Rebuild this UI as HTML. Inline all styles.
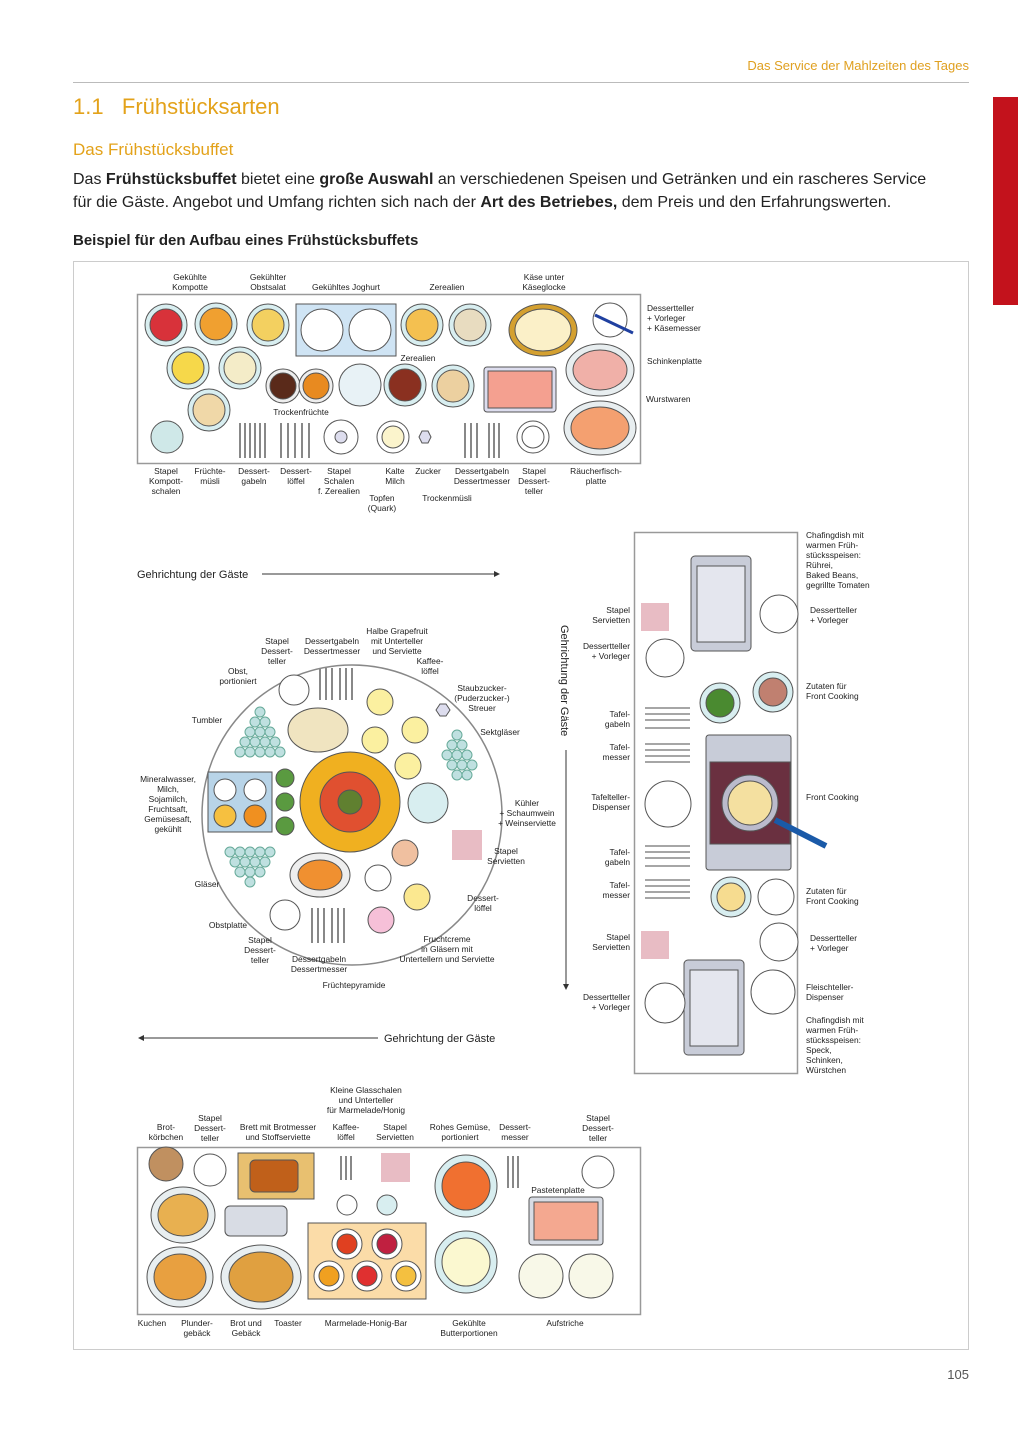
<!DOCTYPE html>
<html><head><meta charset="utf-8"><style>
body{margin:0;background:#fff}
#p{position:relative;width:1018px;height:1440px;overflow:hidden;font-family:"Liberation Sans",sans-serif}
.t{position:absolute;white-space:nowrap}
svg text{font-family:"Liberation Sans",sans-serif;font-size:8.4px;fill:#222}
</style></head><body><div id="p">
<div class="t" style="right:49px;top:58px;font-size:13px;color:#e0a020">Das Service der Mahlzeiten des Tages</div>
<div style="position:absolute;left:73px;top:82px;width:896px;height:1px;background:#bbb"></div>
<div style="position:absolute;left:993px;top:97px;width:25px;height:208px;background:#c3121c"></div>
<div class="t" style="left:73px;top:94px;font-size:22px;color:#e3a21a">1.1&nbsp;&nbsp;&nbsp;Frühstücksarten</div>
<div class="t" style="left:73px;top:140px;font-size:17px;color:#e3a21a">Das Frühstücksbuffet</div>
<div class="t" style="left:73px;top:168px;font-size:16px;color:#222;line-height:23px">Das <b>Frühstücksbuffet</b> bietet eine <b>große Auswahl</b> an verschiedenen Speisen und Getränken und ein rascheres Service<br>für die Gäste. Angebot und Umfang richten sich nach der <b>Art des Betriebes,</b> dem Preis und den Erfahrungswerten.</div>
<div class="t" style="left:73px;top:232px;font-size:15px;color:#222;font-weight:bold">Beispiel für den Aufbau eines Frühstücksbuffets</div>
<div class="t" style="right:49px;top:1367px;font-size:13px;color:#555">105</div>
<svg width="1018" height="1440" style="position:absolute;left:0;top:0">
<rect x="73.5" y="261.5" width="895" height="1088" fill="none" stroke="#ccc"/>
<!-- top table -->
<rect x="137.5" y="294.5" width="503" height="169" fill="#fff" stroke="#999" stroke-width="1.5"/>
<g stroke="#555" stroke-width="1">
<circle cx="166" cy="325" r="21" fill="#d8eef0"/><circle cx="166" cy="325" r="16" fill="#d8323a"/>
<circle cx="216" cy="324" r="21" fill="#d8eef0"/><circle cx="216" cy="324" r="16" fill="#f0a030"/>
<circle cx="268" cy="325" r="21" fill="#d8eef0"/><circle cx="268" cy="325" r="16" fill="#f3d060"/>
<circle cx="188" cy="368" r="21" fill="#d8eef0"/><circle cx="188" cy="368" r="16" fill="#f6d84a"/>
<circle cx="240" cy="368" r="21" fill="#d8eef0"/><circle cx="240" cy="368" r="16" fill="#f4ecc8"/>
<circle cx="209" cy="410" r="21" fill="#d8eef0"/><circle cx="209" cy="410" r="16" fill="#f0d8a8"/>
<circle cx="167" cy="437" r="16" fill="#cfe8e8"/>
<circle cx="283" cy="386" r="17" fill="#eee"/><circle cx="283" cy="386" r="13" fill="#5a2a1a"/>
<circle cx="316" cy="386" r="17" fill="#eee"/><circle cx="316" cy="386" r="13" fill="#e88a20"/>
<circle cx="360" cy="385" r="21" fill="#e8f2f6"/>
<circle cx="405" cy="385" r="21" fill="#d8eef0"/><circle cx="405" cy="385" r="16" fill="#8a3020"/>
<circle cx="453" cy="386" r="21" fill="#d8eef0"/><circle cx="453" cy="386" r="16" fill="#ecd0a0"/>
<circle cx="422" cy="325" r="21" fill="#d8eef0"/><circle cx="422" cy="325" r="16" fill="#f4c050"/>
<circle cx="470" cy="325" r="21" fill="#d8eef0"/><circle cx="470" cy="325" r="16" fill="#e8dcc0"/>
<rect x="296" y="304" width="100" height="52" fill="#cfe4f4"/>
<circle cx="322" cy="330" r="21" fill="#fff"/><circle cx="370" cy="330" r="21" fill="#fff"/>
<ellipse cx="543" cy="330" rx="34" ry="26" fill="#d4a030"/><ellipse cx="543" cy="330" rx="28" ry="21" fill="#fbf0c8"/>
<circle cx="610" cy="320" r="17" fill="#fff"/><line x1="595" y1="315" x2="633" y2="333" stroke="#2040a0" stroke-width="3"/>
<ellipse cx="600" cy="370" rx="34" ry="26" fill="#e8eef0"/><ellipse cx="600" cy="370" rx="27" ry="20" fill="#f0b0a8"/>
<rect x="484" y="367" width="72" height="45" rx="3" fill="#dde"/><rect x="488" y="371" width="64" height="37" fill="#f4a090"/>
<ellipse cx="600" cy="428" rx="36" ry="27" fill="#e8eef0"/><ellipse cx="600" cy="428" rx="29" ry="21" fill="#f4a070"/>
<circle cx="341" cy="437" r="17" fill="#fff"/><circle cx="341" cy="437" r="6" fill="#dde"/>
<circle cx="393" cy="437" r="16" fill="#fff"/><circle cx="393" cy="437" r="11" fill="#fbf4cc"/>
<polygon points="419,437 422,431 428,431 431,437 428,443 422,443" fill="#dde"/>
<circle cx="533" cy="437" r="16" fill="#fff"/><circle cx="533" cy="437" r="11" fill="#fff"/>
</g>
<g stroke="#888" stroke-width="2">
<path d="M240 423v35M245 423v35M250 423v35M255 423v35M260 423v35M265 423v35M281 423v35M288 423v35M295 423v35M302 423v35M309 423v35M465 423v35M471 423v35M477 423v35M489 423v35M494 423v35M499 423v35"/>
</g>
<g text-anchor="middle">
<text x="190" y="280">Gekühlte</text><text x="190" y="290">Kompotte</text>
<text x="268" y="280">Gekühlter</text><text x="268" y="290">Obstsalat</text>
<text x="346" y="290">Gekühltes Joghurt</text><text x="447" y="290">Zerealien</text>
<text x="544" y="280">Käse unter</text><text x="544" y="290">Käseglocke</text>
<text x="418" y="361">Zerealien</text><text x="301" y="415">Trockenfrüchte</text>
<text x="166" y="474">Stapel</text><text x="166" y="484">Kompott-</text><text x="166" y="494">schalen</text>
<text x="210" y="474">Früchte-</text><text x="210" y="484">müsli</text>
<text x="254" y="474">Dessert-</text><text x="254" y="484">gabeln</text>
<text x="296" y="474">Dessert-</text><text x="296" y="484">löffel</text>
<text x="339" y="474">Stapel</text><text x="339" y="484">Schalen</text><text x="339" y="494">f. Zerealien</text>
<text x="395" y="474">Kalte</text><text x="395" y="484">Milch</text>
<text x="428" y="474">Zucker</text>
<text x="482" y="474">Dessertgabeln</text><text x="482" y="484">Dessertmesser</text>
<text x="534" y="474">Stapel</text><text x="534" y="484">Dessert-</text><text x="534" y="494">teller</text>
<text x="596" y="474">Räucherfisch-</text><text x="596" y="484">platte</text>
<text x="382" y="501">Topfen</text><text x="382" y="511">(Quark)</text>
<text x="447" y="501">Trockenmüsli</text>
</g>
<text x="647" y="311">Dessertteller</text><text x="647" y="321">+ Vorleger</text><text x="647" y="331">+ Käsemesser</text>
<text x="647" y="364">Schinkenplatte</text><text x="646" y="402">Wurstwaren</text>
<!-- direction arrows -->
<text x="137" y="578" style="font-size:11px">Gehrichtung der Gäste</text>
<line x1="262" y1="574" x2="498" y2="574" stroke="#333"/><polygon points="500,574 494,571 494,577" fill="#333"/>
<line x1="142" y1="1038" x2="378" y2="1038" stroke="#333"/><polygon points="138,1038 144,1035 144,1041" fill="#333"/>
<text x="384" y="1042" style="font-size:11px">Gehrichtung der Gäste</text>
<text transform="translate(561,625) rotate(90)" style="font-size:11px">Gehrichtung der Gäste</text>
<line x1="566" y1="750" x2="566" y2="986" stroke="#333"/><polygon points="566,990 563,984 569,984" fill="#333"/>
<!-- round table -->
<circle cx="352" cy="815" r="150" fill="#fff" stroke="#888" stroke-width="1.5"/>
<g stroke="#555">
<circle cx="350" cy="802" r="50" fill="#f0b020"/><circle cx="350" cy="802" r="30" fill="#e05030"/><circle cx="350" cy="802" r="12" fill="#608030"/>
<ellipse cx="318" cy="730" rx="30" ry="22" fill="#f0e4c0"/>
<ellipse cx="320" cy="875" rx="30" ry="22" fill="#eee"/><ellipse cx="320" cy="875" rx="22" ry="15" fill="#f09030"/>
<rect x="208" y="772" width="64" height="60" fill="#b8d4e8"/>
<circle cx="225" cy="790" r="11" fill="#fff"/><circle cx="255" cy="790" r="11" fill="#fff"/><circle cx="225" cy="816" r="11" fill="#f6c040"/><circle cx="255" cy="816" r="11" fill="#f09020"/>
<circle cx="285" cy="778" r="9" fill="#5a9a40"/><circle cx="285" cy="802" r="9" fill="#5a9a40"/><circle cx="285" cy="826" r="9" fill="#5a9a40"/>
<circle cx="294" cy="690" r="15" fill="#fff"/><circle cx="285" cy="915" r="15" fill="#fff"/>
<circle cx="380" cy="702" r="13" fill="#fbf0a0"/><circle cx="415" cy="730" r="13" fill="#fbf0a0"/><circle cx="375" cy="740" r="13" fill="#fbf0a0"/><circle cx="408" cy="766" r="13" fill="#fbf0a0"/>
<circle cx="428" cy="803" r="20" fill="#d8eef0"/>
<rect x="452" y="830" width="30" height="30" fill="#e8bcc4" stroke="none"/>
<circle cx="405" cy="853" r="13" fill="#f0c0a0"/><circle cx="378" cy="878" r="13" fill="#fff"/><circle cx="417" cy="897" r="13" fill="#fbe890"/><circle cx="381" cy="920" r="13" fill="#f6c0d8"/>
<polygon points="436,710 440,704 446,704 450,710 446,716 440,716" fill="#dde"/>
</g>
<g fill="#bfe0e0" stroke="#6a9">
<circle cx="260" cy="712" r="5"/><circle cx="255" cy="722" r="5"/><circle cx="265" cy="722" r="5"/><circle cx="250" cy="732" r="5"/><circle cx="260" cy="732" r="5"/><circle cx="270" cy="732" r="5"/><circle cx="245" cy="742" r="5"/><circle cx="255" cy="742" r="5"/><circle cx="265" cy="742" r="5"/><circle cx="275" cy="742" r="5"/><circle cx="240" cy="752" r="5"/><circle cx="250" cy="752" r="5"/><circle cx="260" cy="752" r="5"/><circle cx="270" cy="752" r="5"/><circle cx="280" cy="752" r="5"/>
<circle cx="230" cy="852" r="5"/><circle cx="240" cy="852" r="5"/><circle cx="250" cy="852" r="5"/><circle cx="260" cy="852" r="5"/><circle cx="270" cy="852" r="5"/><circle cx="235" cy="862" r="5"/><circle cx="245" cy="862" r="5"/><circle cx="255" cy="862" r="5"/><circle cx="265" cy="862" r="5"/><circle cx="240" cy="872" r="5"/><circle cx="250" cy="872" r="5"/><circle cx="260" cy="872" r="5"/><circle cx="250" cy="882" r="5"/>
<circle cx="457" cy="735" r="5"/><circle cx="452" cy="745" r="5"/><circle cx="462" cy="745" r="5"/><circle cx="447" cy="755" r="5"/><circle cx="457" cy="755" r="5"/><circle cx="467" cy="755" r="5"/><circle cx="452" cy="765" r="5"/><circle cx="462" cy="765" r="5"/><circle cx="472" cy="765" r="5"/><circle cx="457" cy="775" r="5"/><circle cx="467" cy="775" r="5"/>
</g>
<g stroke="#888" stroke-width="2"><path d="M320 668v32M326 668v32M332 668v32M340 668v32M346 668v32M352 668v32M312 908v35M318 908v35M324 908v35M332 908v35M338 908v35M344 908v35"/></g>
<g text-anchor="middle">
<text x="277" y="644">Stapel</text><text x="277" y="654">Dessert-</text><text x="277" y="664">teller</text>
<text x="332" y="644">Dessertgabeln</text><text x="332" y="654">Dessertmesser</text>
<text x="397" y="634">Halbe Grapefruit</text><text x="397" y="644">mit Unterteller</text><text x="397" y="654">und Serviette</text>
<text x="430" y="664">Kaffee-</text><text x="430" y="674">löffel</text>
<text x="238" y="674">Obst,</text><text x="238" y="684">portioniert</text>
<text x="482" y="691">Staubzucker-</text><text x="482" y="701">(Puderzucker-)</text><text x="482" y="711">Streuer</text>
<text x="207" y="723">Tumbler</text><text x="500" y="735">Sektgläser</text>
<text x="168" y="782">Mineralwasser,</text><text x="168" y="792">Milch,</text><text x="168" y="802">Sojamilch,</text><text x="168" y="812">Fruchtsaft,</text><text x="168" y="822">Gemüsesaft,</text><text x="168" y="832">gekühlt</text>
<text x="527" y="806">Kühler</text><text x="527" y="816">+ Schaumwein</text><text x="527" y="826">+ Weinserviette</text>
<text x="506" y="854">Stapel</text><text x="506" y="864">Servietten</text>
<text x="207" y="887">Gläser</text>
<text x="483" y="901">Dessert-</text><text x="483" y="911">löffel</text>
<text x="228" y="928">Obstplatte</text>
<text x="260" y="943">Stapel</text><text x="260" y="953">Dessert-</text><text x="260" y="963">teller</text>
<text x="447" y="942">Fruchtcreme</text><text x="447" y="952">in Gläsern mit</text><text x="447" y="962">Untertellern und Serviette</text>
<text x="319" y="962">Dessertgabeln</text><text x="319" y="972">Dessertmesser</text>
<text x="354" y="988">Früchtepyramide</text>
</g>
<!-- right table -->
<rect x="634.5" y="532.5" width="163" height="541" fill="#fff" stroke="#999" stroke-width="1.5"/>
<g stroke="#555">
<rect x="691" y="556" width="60" height="95" rx="4" fill="#c8ccd8"/><rect x="697" y="566" width="48" height="76" fill="#e4e6ee"/>
<rect x="684" y="960" width="60" height="95" rx="4" fill="#c8ccd8"/><rect x="690" y="970" width="48" height="76" fill="#e4e6ee"/>
<rect x="706" y="735" width="85" height="135" rx="3" fill="#c8ccd8"/><rect x="710" y="762" width="80" height="82" fill="#6a3040"/>
<circle cx="750" cy="803" r="28" fill="#bbc"/><circle cx="750" cy="803" r="22" fill="#f4e0a0"/>
<line x1="775" y1="820" x2="826" y2="846" stroke="#1a5aa8" stroke-width="6"/>
<circle cx="779" cy="614" r="19" fill="#fff"/><circle cx="665" cy="658" r="19" fill="#fff"/>
<circle cx="720" cy="703" r="20" fill="#d8eef0"/><circle cx="720" cy="703" r="14" fill="#4a8a30"/>
<circle cx="773" cy="692" r="20" fill="#d8eef0"/><circle cx="773" cy="692" r="14" fill="#c08070"/>
<circle cx="668" cy="804" r="23" fill="#fff"/>
<circle cx="731" cy="897" r="20" fill="#d8eef0"/><circle cx="731" cy="897" r="14" fill="#f6dc90"/>
<circle cx="776" cy="897" r="18" fill="#fff"/>
<circle cx="779" cy="942" r="19" fill="#fff"/>
<circle cx="665" cy="1003" r="20" fill="#fff"/><circle cx="773" cy="992" r="22" fill="#fff"/>
</g>
<rect x="641" y="603" width="28" height="28" fill="#e8bcc4"/><rect x="641" y="931" width="28" height="28" fill="#e8bcc4"/>
<g stroke="#888" stroke-width="1.5"><path d="M645 708h45M645 714h45M645 720h45M645 728h45M645 744h45M645 750h45M645 756h45M645 762h45M645 846h45M645 852h45M645 858h45M645 866h45M645 880h45M645 886h45M645 892h45M645 898h45"/></g>
<g text-anchor="end">
<text x="630" y="613">Stapel</text><text x="630" y="623">Servietten</text>
<text x="630" y="649">Dessertteller</text><text x="630" y="659">+ Vorleger</text>
<text x="630" y="717">Tafel-</text><text x="630" y="727">gabeln</text>
<text x="630" y="750">Tafel-</text><text x="630" y="760">messer</text>
<text x="630" y="800">Tafelteller-</text><text x="630" y="810">Dispenser</text>
<text x="630" y="855">Tafel-</text><text x="630" y="865">gabeln</text>
<text x="630" y="888">Tafel-</text><text x="630" y="898">messer</text>
<text x="630" y="940">Stapel</text><text x="630" y="950">Servietten</text>
<text x="630" y="1000">Dessertteller</text><text x="630" y="1010">+ Vorleger</text>
</g>
<text x="806" y="538">Chafingdish mit</text><text x="806" y="548">warmen Früh-</text><text x="806" y="558">stücksspeisen:</text><text x="806" y="568">Rührei,</text><text x="806" y="578">Baked Beans,</text><text x="806" y="588">gegrillte Tomaten</text>
<text x="810" y="613">Dessertteller</text><text x="810" y="623">+ Vorleger</text>
<text x="806" y="689">Zutaten für</text><text x="806" y="699">Front Cooking</text>
<text x="806" y="800">Front Cooking</text>
<text x="806" y="894">Zutaten für</text><text x="806" y="904">Front Cooking</text>
<text x="810" y="941">Dessertteller</text><text x="810" y="951">+ Vorleger</text>
<text x="806" y="990">Fleischteller-</text><text x="806" y="1000">Dispenser</text>
<text x="806" y="1023">Chafingdish mit</text><text x="806" y="1033">warmen Früh-</text><text x="806" y="1043">stücksspeisen:</text><text x="806" y="1053">Speck,</text><text x="806" y="1063">Schinken,</text><text x="806" y="1073">Würstchen</text>
<!-- bottom table -->
<rect x="137.5" y="1147.5" width="503" height="167" fill="#fff" stroke="#999" stroke-width="1.5"/>
<g stroke="#555">
<circle cx="166" cy="1164" r="17" fill="#c09060"/>
<circle cx="210" cy="1170" r="16" fill="#fff"/>
<rect x="238" y="1153" width="76" height="46" fill="#e8c070"/><rect x="250" y="1160" width="48" height="32" rx="5" fill="#c0601a"/>
<ellipse cx="183" cy="1215" rx="32" ry="28" fill="#e8eef0"/><ellipse cx="183" cy="1215" rx="25" ry="21" fill="#e8b050"/>
<ellipse cx="180" cy="1277" rx="33" ry="30" fill="#e8eef0"/><ellipse cx="180" cy="1277" rx="26" ry="23" fill="#e8a040"/>
<ellipse cx="261" cy="1277" rx="40" ry="32" fill="#e8eef0"/><ellipse cx="261" cy="1277" rx="32" ry="25" fill="#e0a040"/>
<rect x="225" y="1206" width="62" height="30" rx="5" fill="#d8dce4"/>
<rect x="308" y="1223" width="118" height="76" fill="#fbdca8"/>
<circle cx="347" cy="1244" r="15" fill="#fff"/><circle cx="387" cy="1244" r="15" fill="#fff"/><circle cx="329" cy="1276" r="15" fill="#fff"/><circle cx="367" cy="1276" r="15" fill="#fff"/><circle cx="406" cy="1276" r="15" fill="#fff"/>
<circle cx="347" cy="1244" r="10" fill="#e04020"/><circle cx="387" cy="1244" r="10" fill="#c02040"/><circle cx="329" cy="1276" r="10" fill="#f0a020"/><circle cx="367" cy="1276" r="10" fill="#e03030"/><circle cx="406" cy="1276" r="10" fill="#f4c040"/>
<circle cx="347" cy="1205" r="10" fill="#fff"/><circle cx="387" cy="1205" r="10" fill="#d8eef0"/>
<circle cx="466" cy="1186" r="31" fill="#d8eef0"/><circle cx="466" cy="1186" r="24" fill="#f07030"/>
<circle cx="466" cy="1262" r="31" fill="#d8eef0"/><circle cx="466" cy="1262" r="24" fill="#fbf8d0"/>
<circle cx="598" cy="1172" r="16" fill="#fff"/>
<rect x="529" y="1197" width="74" height="48" rx="3" fill="#d8dce4"/><rect x="534" y="1202" width="64" height="38" fill="#f4a890"/>
<circle cx="541" cy="1276" r="22" fill="#f8f8e8"/><circle cx="591" cy="1276" r="22" fill="#f8f8e8"/>
</g>
<rect x="381" y="1153" width="29" height="29" fill="#e8bcc4"/>
<g stroke="#888" stroke-width="2"><path d="M341 1156v24M346 1156v24M351 1156v24M508 1156v32M513 1156v32M518 1156v32"/></g>
<g text-anchor="middle">
<text x="366" y="1093">Kleine Glasschalen</text><text x="366" y="1103">und Unterteller</text><text x="366" y="1113">für Marmelade/Honig</text>
<text x="210" y="1121">Stapel</text><text x="598" y="1121">Stapel</text>
<text x="166" y="1130">Brot-</text><text x="166" y="1140">körbchen</text>
<text x="210" y="1131">Dessert-</text><text x="210" y="1141">teller</text>
<text x="278" y="1130">Brett mit Brotmesser</text><text x="278" y="1140">und Stoffserviette</text>
<text x="346" y="1130">Kaffee-</text><text x="346" y="1140">löffel</text>
<text x="395" y="1130">Stapel</text><text x="395" y="1140">Servietten</text>
<text x="460" y="1130">Rohes Gemüse,</text><text x="460" y="1140">portioniert</text>
<text x="515" y="1130">Dessert-</text><text x="515" y="1140">messer</text>
<text x="598" y="1131">Dessert-</text><text x="598" y="1141">teller</text>
<text x="558" y="1193">Pastetenplatte</text>
<text x="152" y="1326">Kuchen</text>
<text x="197" y="1326">Plunder-</text><text x="197" y="1336">gebäck</text>
<text x="246" y="1326">Brot und</text><text x="246" y="1336">Gebäck</text>
<text x="288" y="1326">Toaster</text>
<text x="366" y="1326">Marmelade-Honig-Bar</text>
<text x="469" y="1326">Gekühlte</text><text x="469" y="1336">Butterportionen</text>
<text x="565" y="1326">Aufstriche</text>
</g>
</svg>
</div></body></html>
